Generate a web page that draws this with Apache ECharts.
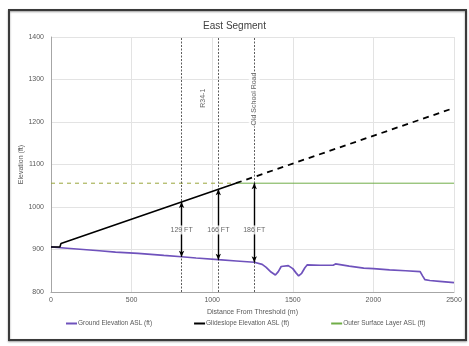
<!DOCTYPE html>
<html><head><meta charset="utf-8">
<script src="https://cdn.jsdelivr.net/npm/echarts@6/dist/echarts.min.js"></script>
<style>html,body{margin:0;padding:0;background:#fff}#c{width:469px;height:346px}</style>
</head><body><div id="c"></div>
<script>
// ---- data ----
const groundX = [0,100,200,300,400,540,700,810,900,1038,1150,1261,1310,1335,1365,1392,1410,1428,1440,1472,1500,1520,1536,1555,1575,1590,1670,1750,1765,1850,1940,2000,2100,2200,2290,2305,2320,2350,2410,2500];
const groundY = [906,903,900,897,894,891,886,883,880,876,873,870,865,858,847,840,848,860,862,862,855,845,838,844,857,864,863,863,866,861,856,855,852,850,848,838,829,827,825,822];
const glideSolidX = [0,55,62,1147];
const glideSolidY = [906,906,914,1056];
const glideDashX = [1147,2500];
const glideDashY = [1056,1233];
const outerDashX = [0,1147];
const outerDashY = [1056,1056];
const outerSolidX = [1147,2500];
const outerSolidY = [1056,1056];
const refLineX = [810,1038,1261];
const refLabelX = [943,1261];
const refLabelY = [1256,1254];
const refLabels = ['R34-1','Old School Road'];
const arrowX = [810,1038,1261];
const arrowTop = [1012,1042,1056];
const arrowBottom = [883,876,870];
const arrowLabelY = 946;
const arrowLabels = ['129 FT','166 FT','186 FT'];
const xTicks = [0,500,1000,1500,2000,2500];
const yTicks = [800,900,1000,1100,1200,1300,1400];

const zip = (xs, ys) => xs.map((x,i)=>[x, ys[i]]);
const FONT = 'Liberation Sans, Arial, sans-serif';
const GREEN = '#70AD47';
const PURPLE = '#6F52BC';

const chart = echarts.init(document.getElementById('c'), null, {renderer:'canvas'});
chart.setOption({
  animation:false,
  backgroundColor:'#fff',
  title:{text:'East Segment', left:'center', top:16, textStyle:{fontFamily:FONT,fontSize:10,fontWeight:'normal',color:'#404040'}},
  grid:{left:51,right:15,top:37,bottom:54},
  xAxis:{type:'value',min:xTicks[0],max:xTicks[xTicks.length-1],interval:500,
    name:'Distance From Threshold (m)',nameLocation:'middle',nameGap:17,nameMoveOverlap:false,
    nameTextStyle:{fontFamily:FONT,fontSize:7,color:'#595959'},
    axisLine:{show:true,lineStyle:{color:'#a6a6a6'}},axisTick:{show:false},
    axisLabel:{fontFamily:FONT,fontSize:7,color:'#595959',margin:5,formatter:v=>String(v)},
    splitLine:{show:true,lineStyle:{color:'#e3e3e3',width:1}}},
  yAxis:{type:'value',min:yTicks[0],max:yTicks[yTicks.length-1],interval:100,
    name:'Elevation (ft)',nameLocation:'middle',nameGap:26,nameMoveOverlap:false,
    nameTextStyle:{fontFamily:FONT,fontSize:7,color:'#595959'},
    axisLine:{show:true,lineStyle:{color:'#a6a6a6'}},axisTick:{show:false},
    axisLabel:{fontFamily:FONT,fontSize:7,color:'#595959',margin:7,formatter:v=>String(v)},
    splitLine:{show:true,lineStyle:{color:'#e3e3e3',width:1}}},
  legend:{bottom:14,left:61,itemGap:42,itemWidth:11,itemHeight:2,icon:'rect',
    textStyle:{fontFamily:FONT,fontSize:6.5,color:'#595959',padding:[0,0,0,-4]},
    data:['Ground Elevation ASL (ft)','Glideslope Elevation ASL (ft)','Outer Surface Layer ASL (ft)']},
  graphic:[{type:'rect',shape:{x:9,y:10,width:457,height:330},
    style:{fill:null,stroke:'#3a3a3a',lineWidth:2,shadowBlur:2,shadowColor:'rgba(0,0,0,0.4)',shadowOffsetY:1}}],
  series:[
    {name:'Outer Surface Layer ASL (ft)',type:'line',data:zip(outerDashX,outerDashY),showSymbol:false,
      lineStyle:{color:'#9AA63C',width:1,type:[4,4]},itemStyle:{color:GREEN},z:2},
    {name:'Outer Surface Layer ASL (ft)',type:'line',data:zip(outerSolidX,outerSolidY),showSymbol:false,
      lineStyle:{color:GREEN,width:1},itemStyle:{color:GREEN},z:2},
    {name:'Glideslope Elevation ASL (ft)',type:'line',data:zip(glideSolidX,glideSolidY),showSymbol:false,
      lineStyle:{color:'#000',width:1.6},itemStyle:{color:'#000'},z:4},
    {name:'Glideslope Elevation ASL (ft)',type:'line',data:zip(glideDashX,glideDashY),showSymbol:false,
      lineStyle:{color:'#000',width:1.8,type:[6,5]},itemStyle:{color:'#000'},z:4},
    {name:'Ground Elevation ASL (ft)',type:'line',data:zip(groundX,groundY),showSymbol:false,
      lineStyle:{color:PURPLE,width:1.7},itemStyle:{color:PURPLE},z:3,
      markLine:{silent:true,symbol:['none','none'],label:{show:false},
        lineStyle:{color:'#333',width:0.8,type:[2,1.5]},
        data:refLineX.map(x=>[{coord:[x,yTicks[0]]},{coord:[x,yTicks[yTicks.length-1]]}])}},
    {type:'line',data:[],z:5,
      markLine:{silent:true,symbol:['arrow','arrow'],symbolSize:[4,6],label:{show:false},
        lineStyle:{color:'#000',width:1.4,type:'solid'},
        data:arrowX.map((x,i)=>[{coord:[x,arrowTop[i]]},{coord:[x,arrowBottom[i]]}])}},
    {type:'scatter',symbolSize:0,z:6,
      data:arrowX.map((x,i)=>({value:[x,arrowLabelY],name:arrowLabels[i]})),
      label:{show:true,position:'inside',formatter:p=>p.name,fontFamily:FONT,fontSize:7,color:'#404040',
        backgroundColor:'#fff',padding:[1,1]}},
    {type:'scatter',symbolSize:0,z:6,
      data:refLabelX.map((x,i)=>({value:[x,refLabelY[i]],name:refLabels[i]})),
      label:{show:true,position:'inside',rotate:90,formatter:p=>p.name,fontFamily:FONT,fontSize:7,color:'#404040',
        backgroundColor:'#fff',padding:[2,1]}}
  ]
});
</script></body></html>
